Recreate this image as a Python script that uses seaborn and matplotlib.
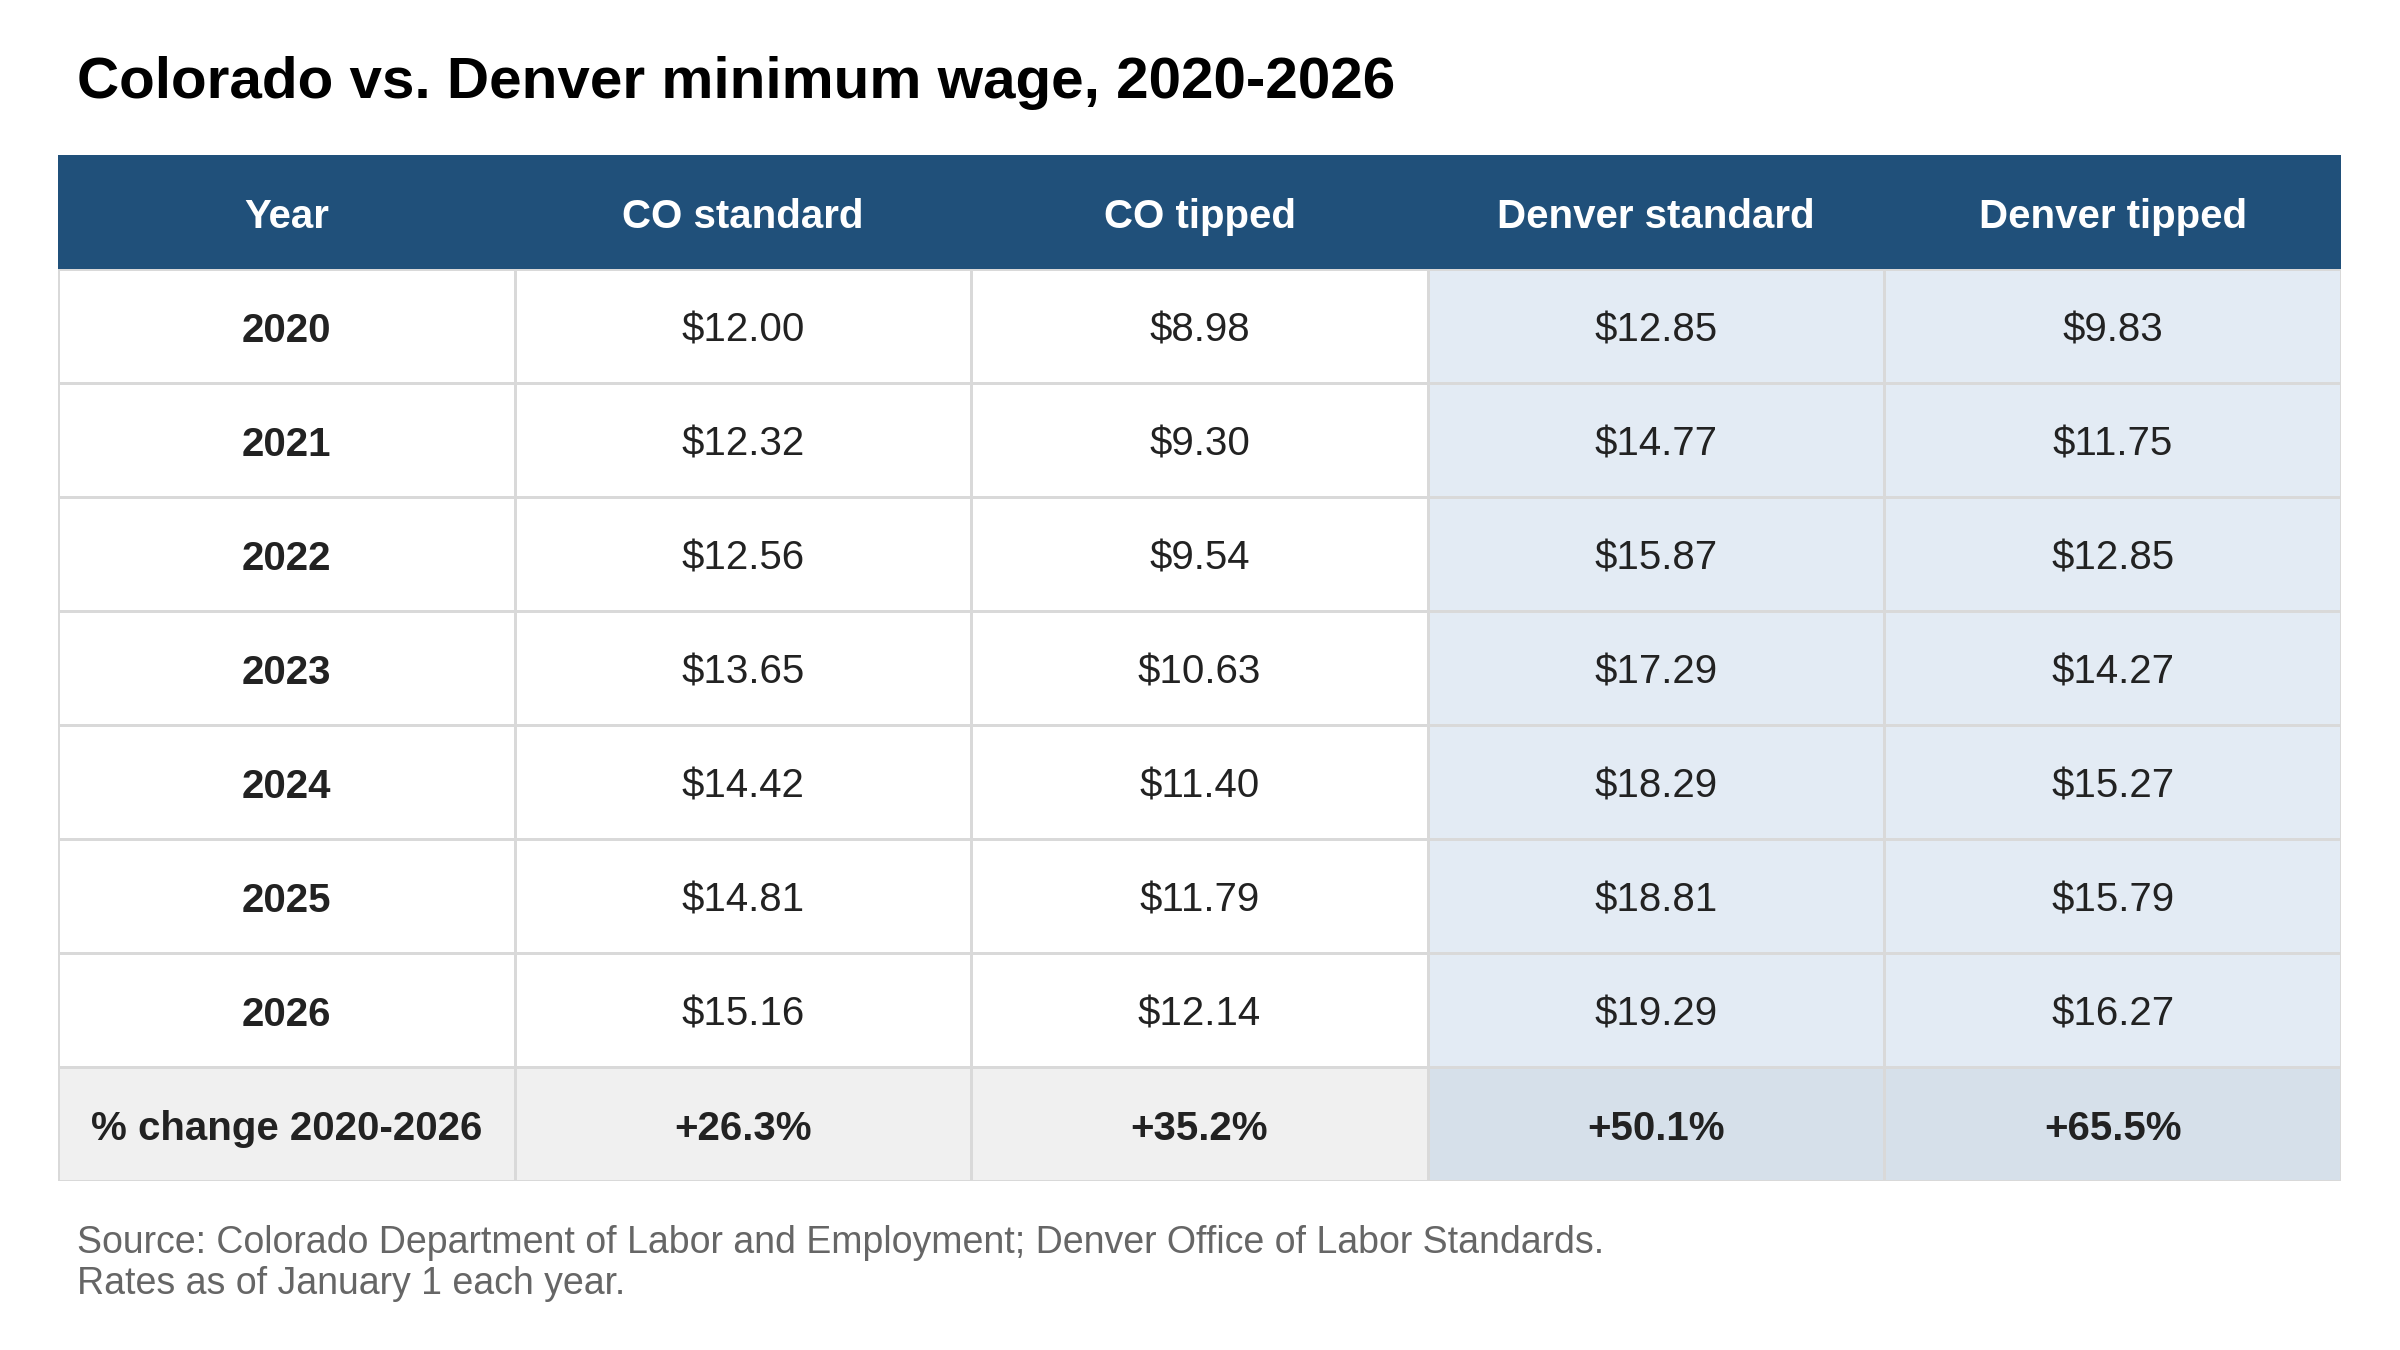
import numpy as np
import pandas as pd
import matplotlib.pyplot as plt
from matplotlib.colors import ListedColormap
from matplotlib.patches import Rectangle
import seaborn as sns

# table data
columns = ['Year', 'CO standard', 'CO tipped', 'Denver standard', 'Denver tipped']
years = ['2020', '2021', '2022', '2023', '2024', '2025', '2026']
co_standard = [12.00, 12.32, 12.56, 13.65, 14.42, 14.81, 15.16]
co_tipped = [8.98, 9.30, 9.54, 10.63, 11.40, 11.79, 12.14]
denver_standard = [12.85, 14.77, 15.87, 17.29, 18.29, 18.81, 19.29]
denver_tipped = [9.83, 11.75, 12.85, 14.27, 15.27, 15.79, 16.27]
summary_label = '% change 2020-2026'
pct_change = ['+26.3%', '+35.2%', '+50.1%', '+65.5%']

sns.set_theme(style='white')
plt.rcParams['font.family'] = ['Liberation Sans', 'DejaVu Sans']

# build label table
rows = [columns]
for i, y in enumerate(years):
    rows.append([y] + ['$%.2f' % v[i] for v in (co_standard, co_tipped, denver_standard, denver_tipped)])
rows.append([summary_label] + pct_change)
labels = np.array(rows)

# cell types: 0 white, 1 denver tint, 2 summary grey, 3 summary denver, 4 header
n_rows = len(rows)
kind = np.zeros((n_rows, len(columns)))
kind[1:-1, 3:] = 1
kind[-1, :3] = 2
kind[-1, 3:] = 3
kind[0, :] = 4
df = pd.DataFrame(kind, columns=columns)

header_col = '#20507A'
cmap = ListedColormap(['#FFFFFF', '#E3EBF4', '#F0F0F0', '#D6E0EA', header_col])

fig = plt.figure(figsize=(24, 13.5), dpi=100)
ax = fig.add_axes([0.0242, 0.1252, 0.9512, 0.76])
sns.heatmap(df, ax=ax, cmap=cmap, vmin=-0.5, vmax=4.5, cbar=False,
            annot=labels, fmt='', linewidths=2, linecolor='#D9D9D9',
            annot_kws={'fontsize': 29, 'color': '#222222'})
ax.set_xticks([])
ax.set_yticks([])
ax.set_xlabel('')
ax.set_ylabel('')
for s in ax.spines.values():
    s.set_visible(False)

# solid header band without grid lines
ax.add_patch(Rectangle((0, 0), len(columns), 1, facecolor=header_col,
                       edgecolor='none', zorder=2, clip_on=False))

# style the annotations
ncol = len(columns)
for k, t in enumerate(ax.texts):
    r, c = divmod(k, ncol)
    x, y = t.get_position()
    t.set_position((x, y + 0.04))
    t.set_zorder(4)
    if r == 0:
        t.set_color('white')
        t.set_fontweight('bold')
    elif c == 0 or r == n_rows - 1:
        t.set_fontweight('bold')

fig.text(0.032, 0.9385, 'Colorado vs. Denver minimum wage, 2020-2026',
         fontsize=42, fontweight='bold', color='black', va='center', ha='left')
fig.text(0.032, 0.0796, 'Source: Colorado Department of Labor and Employment; Denver Office of Labor Standards.',
         fontsize=27, color='#666666', va='center', ha='left')
fig.text(0.032, 0.0486, 'Rates as of January 1 each year.',
         fontsize=27, color='#666666', va='center', ha='left')

fig.savefig('out.png', dpi=100, facecolor='white')
